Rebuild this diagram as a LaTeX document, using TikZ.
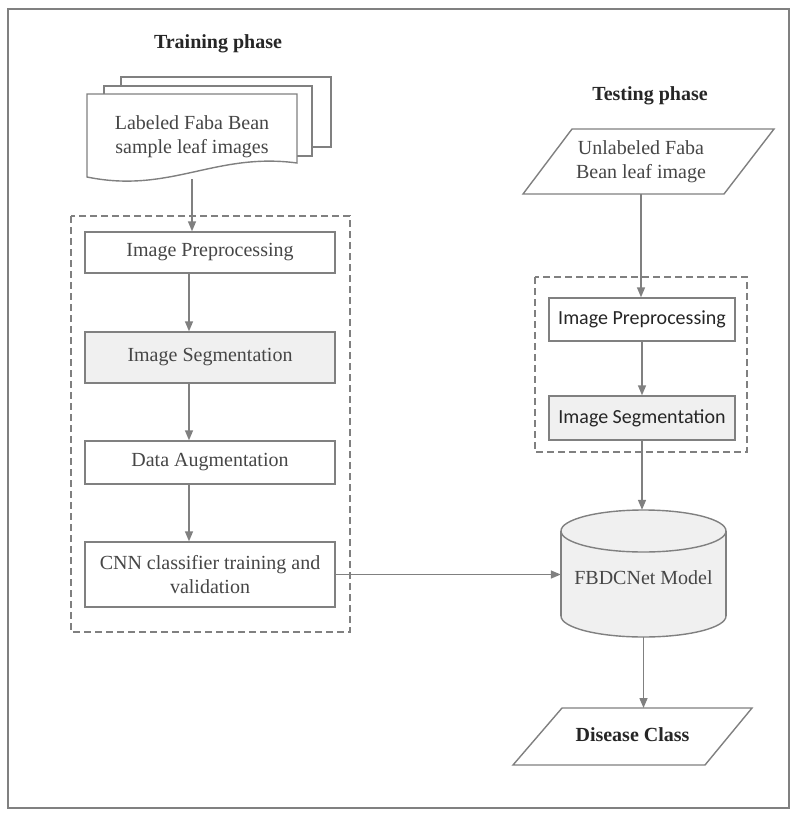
\documentclass[tikz,border=0pt]{standalone}
\usepackage{fontspec}
\setmainfont{Liberation Serif}
\newfontfamily\boxsans{Carlito}
\usetikzlibrary{arrows.meta}

\definecolor{lngray}{RGB}{128,128,128}
\definecolor{txtgray}{RGB}{70,70,70}
\definecolor{boxfill}{RGB}{240,240,240}

\tikzset{
    flow/.style={draw=lngray,line width=1.5pt,-{Triangle[length=10pt,width=8pt]}},
    stepbox/.style={draw=lngray,line width=1.4pt,fill=white,text=txtgray,font=\fontsize{20}{24}\selectfont,align=center,inner sep=0pt},
    segbox/.style={stepbox,fill=boxfill},
    testbox/.style={stepbox,text=black!85,font=\boxsans\fontsize{20}{24}\selectfont},
    outline/.style={draw=lngray,line width=1.4pt,fill=white},
    plain/.style={text=txtgray,font=\fontsize{20}{24}\selectfont,align=center},
    groupbox/.style={draw=lngray,line width=1.3pt,dash pattern=on 7pt off 4pt},
    phase/.style={font=\bfseries\fontsize{20}{24}\selectfont,text=black!85}
}

\begin{document}
\begin{tikzpicture}[x=1pt,y=-1pt]
    \useasboundingbox (0,0) rectangle (800,816);
    \draw[lngray,line width=1.6pt] (8,9) rectangle (789,808);

    % training side
    \node[phase] (train) at (218,44) {Training phase};
    \draw[groupbox] (71,216) rectangle (350,632);
    \draw[outline] (121,77) rectangle (331,147);
    \draw[outline] (104,86) rectangle (312,156);
    \draw[outline] (87,94) -- (297,94) -- (297,163)
        .. controls (215,152) and (170,194) .. (87,177) -- cycle;
    \node[plain] (docs) at (192,137) {Labeled Faba Bean\\sample leaf images};
    \coordinate (docbot) at (192,179);

    \node[stepbox,minimum width=250,minimum height=41] (pre) at (210,252.5) {Image Preprocessing};
    \node[segbox,minimum width=250,minimum height=51] (seg) at (210,357.5) {Image Segmentation};
    \node[stepbox,minimum width=250,minimum height=43] (aug) at (210,462.5) {Data Augmentation};
    \node[stepbox,minimum width=250,minimum height=65] (cnn) at (210,574.5) {CNN classifier training and\\validation};

    \draw[flow] (docbot) -- (pre.north -| docbot);
    \draw[flow] ([xshift=-21pt]pre.south) -- ([xshift=-21pt]seg.north);
    \draw[flow] ([xshift=-21pt]seg.south) -- ([xshift=-21pt]aug.north);
    \draw[flow] ([xshift=-21pt]aug.south) -- ([xshift=-21pt]cnn.north);

    % testing side
    \node[phase] (test) at (650,96) {Testing phase};
    \draw[outline] (572,129) -- (774,129) -- (724,194) -- (523,194) -- cycle;
    \node[plain] (unl) at (641,162) {Unlabeled Faba\\Bean leaf image};
    \coordinate (unlbot) at (641,194);
    \draw[groupbox] (535,277) rectangle (747,452);
    \node[testbox,minimum width=186,minimum height=43] (tpre) at (642,319.5) {Image Preprocessing};
    \node[testbox,fill=boxfill,minimum width=186,minimum height=44] (tseg) at (642,418) {Image Segmentation};

    % cylinder
    \draw[outline,fill=boxfill] (643.5,616) ellipse (82.5 and 21);
    \fill[boxfill] (561,531) rectangle (726,616);
    \draw[lngray,line width=1.4pt] (561,531) -- (561,616) (726,531) -- (726,616);
    \draw[outline,fill=boxfill] (643.5,531) ellipse (82.5 and 21);
    \node[minimum width=165,minimum height=127,inner sep=0pt] (model) at (643.5,573.5) {};
    \node[plain] (modeltxt) at (643.5,578) {FBDCNet Model};

    \draw[outline] (562,708) -- (752,708) -- (705,765) -- (513,765) -- cycle;
    \node[phase] (dis) at (632.5,735) {Disease Class};
    \coordinate (distop) at (643.5,708);

    \draw[flow] (unlbot) -- (unlbot |- tpre.north);
    \draw[flow] (tpre) -- (tseg);
    \draw[flow] (tseg.south) -- (tseg.south |- model.north);
    \draw[flow] (cnn.east) -- (cnn.east -| model.west);
    \draw[flow] (model.south) -- (distop);
\end{tikzpicture}
\end{document}
